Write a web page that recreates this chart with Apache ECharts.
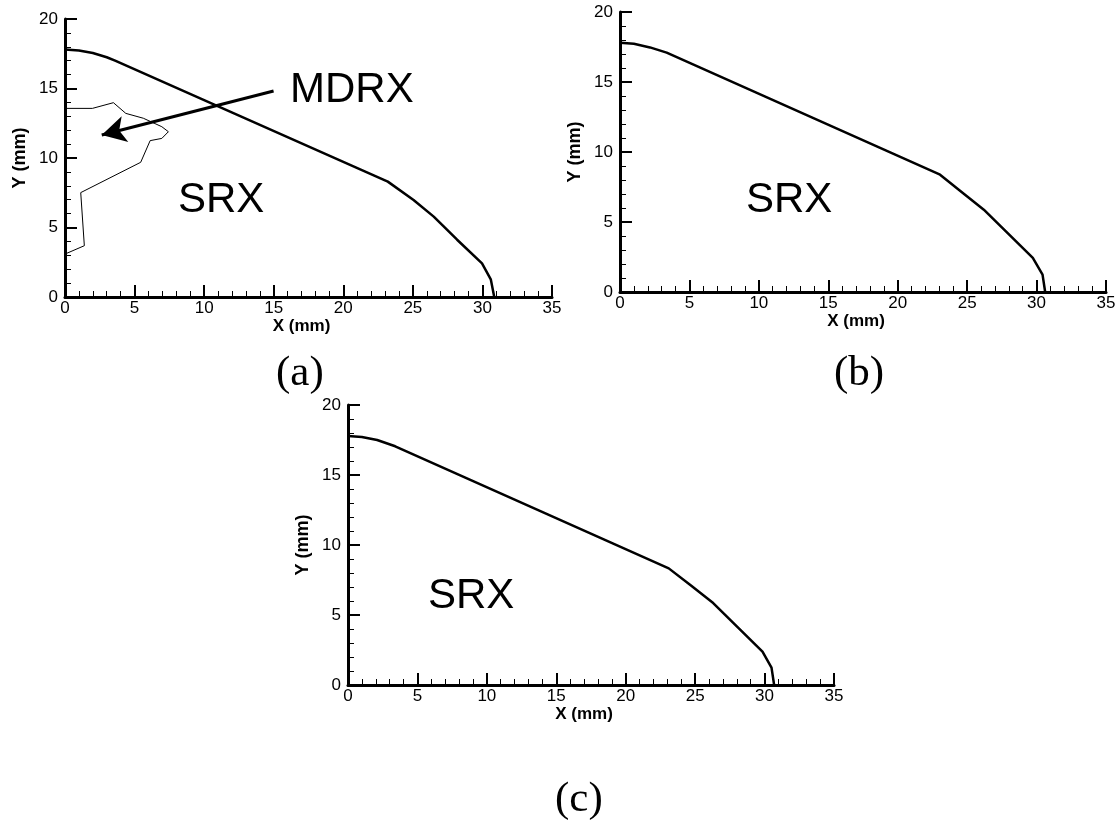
<!DOCTYPE html>
<html>
<head>
<meta charset="utf-8">
<script src="https://cdn.jsdelivr.net/npm/echarts@6/dist/echarts.min.js"></script>
<style>html,body{margin:0;padding:0;background:#fff;}#chart{width:1119px;height:828px;}</style>
</head>
<body>
<div id="chart"></div>
<script>
// ---- data ----
const xTicks = [0, 5, 10, 15, 20, 25, 30, 35];
const yTicks = [0, 5, 10, 15, 20];
const curveA = [[0,17.8],[1,17.74],[2,17.55],[3,17.25],[3.6,17.0],[23.2,8.3],[25.05,6.98],[26.5,5.78],[28.18,4.12],[29.97,2.42],[30.6,1.27],[30.85,0]];
const curveB = [[0,17.8],[1,17.73],[2.16,17.47],[3.36,17.1],[23.05,8.38],[24.6,7.15],[26.2,5.88],[29.73,2.43],[30.43,1.24],[30.62,0]];
const curveC = [[0,17.78],[1,17.72],[2.1,17.5],[3.4,17.05],[23.1,8.33],[24.7,7.1],[26.3,5.85],[29.85,2.38],[30.5,1.24],[30.69,0]];
const mdrxA = [[0,13.57],[1.97,13.57],[3.48,13.98],[4.37,13.21],[5.63,12.86],[6.96,12.25],[7.43,11.89],[6.96,11.41],[6.12,11.25],[5.44,9.69],[1.13,7.51],[1.39,3.69],[0,3.09]];
const arrowA = [[14.99,14.82],[2.64,11.65]];
const xName = 'X (mm)';
const yName = 'Y (mm)';
const panelLabels = ['(a)', '(b)', '(c)'];
const regionLabels = ['SRX', 'MDRX'];

// ---- layout ----
const grids = [
  {left: 65, top: 19, width: 487, height: 278},
  {left: 620, top: 12, width: 486, height: 280},
  {left: 348, top: 405, width: 486, height: 280}
];
const sans = 'Liberation Sans, Arial, sans-serif';

function xAxis(i) {
  return {
    type: 'value', gridIndex: i, min: xTicks[0], max: xTicks[xTicks.length-1], interval: 5,
    name: xName, nameLocation: 'middle', nameGap: 20,
    nameTextStyle: {fontFamily: sans, fontWeight: 'bold', fontSize: 17, color: '#000', padding: [0, 14, 0, 0]},
    axisLine: {show: true, lineStyle: {color: '#000', width: 3}},
    axisTick: {show: true, inside: true, length: 12, lineStyle: {color: '#000', width: 2}},
    minorTick: {show: true, splitNumber: 5, length: 6, lineStyle: {color: '#000', width: 1}},
    splitLine: {show: false},
    axisLabel: {fontFamily: sans, fontSize: 17, color: '#000', margin: 3}
  };
}
function yAxis(i) {
  return {
    type: 'value', gridIndex: i, min: yTicks[0], max: yTicks[yTicks.length-1], interval: 5,
    name: yName, nameLocation: 'middle', nameGap: 36,
    nameTextStyle: {fontFamily: sans, fontWeight: 'bold', fontSize: 18, color: '#000'},
    axisLine: {show: true, lineStyle: {color: '#000', width: 3}},
    axisTick: {show: true, inside: true, length: 12, lineStyle: {color: '#000', width: 2}},
    minorTick: {show: true, splitNumber: 5, length: 6, lineStyle: {color: '#000', width: 1}},
    splitLine: {show: false},
    axisLabel: {fontFamily: sans, fontSize: 17, color: '#000', margin: 7}
  };
}
function lineSeries(data, i, w) {
  return {type: 'line', xAxisIndex: i, yAxisIndex: i, data: data, showSymbol: false, symbol: 'none',
    smooth: false, lineStyle: {color: '#000', width: w}, silent: true, animation: false};
}

const bigText = {fontFamily: sans, fontSize: 42, fill: '#000'};
const serif = {fontFamily: 'Liberation Serif, Times New Roman, serif', fontSize: 43, fill: '#000'};

const series = [
  lineSeries(curveA, 0, 2.5),
  lineSeries(mdrxA, 0, 1),
  lineSeries(curveB, 1, 2.5),
  lineSeries(curveC, 2, 2.5)
];
series[1].markLine = {
  silent: true, animation: false, symbol: ['none', 'arrow'], symbolSize: [20, 24],
  label: {show: false},
  lineStyle: {color: '#000', width: 3, type: 'solid'},
  data: [[{coord: arrowA[0]}, {coord: arrowA[1]}]]
};

const chart = echarts.init(document.getElementById('chart'), null, {renderer: 'canvas'});
chart.setOption({
  backgroundColor: '#fff',
  animation: false,
  grid: grids,
  xAxis: [xAxis(0), xAxis(1), xAxis(2)],
  yAxis: [yAxis(0), yAxis(1), yAxis(2)],
  series: series,
  graphic: [
    {type: 'text', left: 290, top: 69, style: Object.assign({text: regionLabels[1]}, bigText)},
    {type: 'text', left: 178, top: 179, style: Object.assign({text: regionLabels[0]}, bigText)},
    {type: 'text', left: 746, top: 179, style: Object.assign({text: regionLabels[0]}, bigText)},
    {type: 'text', left: 428, top: 575, style: Object.assign({text: regionLabels[0]}, bigText)},
    {type: 'text', left: 276, top: 352, style: Object.assign({text: panelLabels[0]}, serif)},
    {type: 'text', left: 834, top: 352, style: Object.assign({text: panelLabels[1]}, serif)},
    {type: 'text', left: 555, top: 778, style: Object.assign({text: panelLabels[2]}, serif)}
  ]
});
</script>
</body>
</html>
